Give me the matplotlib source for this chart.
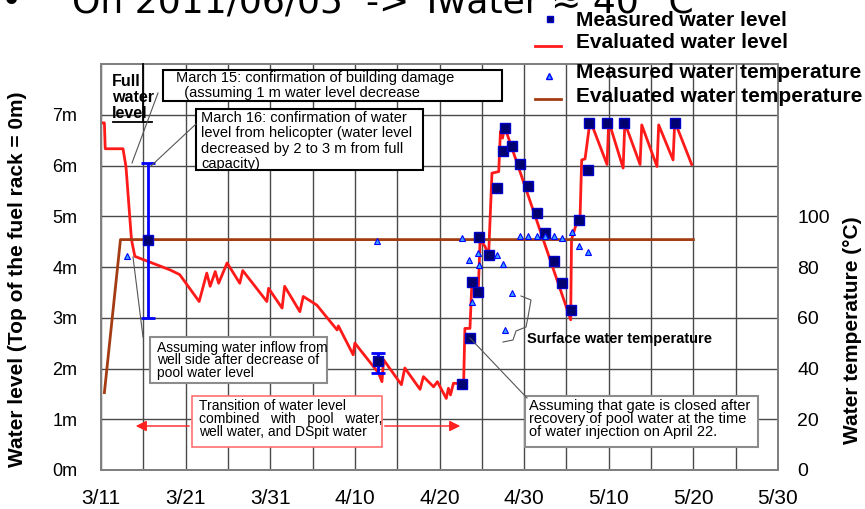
import matplotlib
matplotlib.use('Agg')
import matplotlib.pyplot as plt
from matplotlib.patches import Rectangle, FancyArrowPatch
from matplotlib.lines import Line2D

plt.rcParams['font.family'] = ['Liberation Sans', 'DejaVu Sans']

W, H = 865, 509

# x axis in days, day 0 = 3/11
tick_days = [0, 10, 20, 30, 40, 50, 60, 70, 80]
tick_labels = ['3/11', '3/21', '3/31', '4/10', '4/20', '4/30', '5/10', '5/20', '5/30']
level_ticks = [0, 1, 2, 3, 4, 5, 6, 7]
level_labels = ['0m', '1m', '2m', '3m', '4m', '5m', '6m', '7m']
temp_ticks = [0, 20, 40, 60, 80, 100]

# evaluated water level (m)
eval_level_days = [0.0, 0.4, 0.5, 2.6, 2.95, 3.6, 4.0, 8.2, 9.3, 11.6, 12.5, 12.9, 13.5,
                   13.9, 14.9, 16.4, 16.75, 19.6, 19.8, 21.4, 21.7, 23.5, 23.9, 25.5,
                   27.9, 28.05, 29.8, 30.0, 32.8, 33.2, 33.4, 35.5, 35.9, 37.7, 38.1,
                   39.3, 39.75, 40.8, 41.05, 41.3, 41.65, 42.6, 42.85, 43.0, 43.6, 43.8,
                   44.6, 44.8, 45.4, 45.8, 46.2, 47.0, 47.2, 47.45, 47.75, 47.95, 55.5,
                   55.6, 56.2, 56.6, 56.8, 57.2, 57.8, 59.8, 60.0, 61.7, 61.9, 63.7,
                   63.9, 65.7, 65.9, 67.6, 67.8, 69.8]
eval_level_m = [6.84, 6.84, 6.33, 6.33, 5.98, 4.54, 4.21, 3.94, 3.85, 3.32, 3.88, 3.62, 3.91,
                3.68, 4.08, 3.68, 3.93, 3.32, 3.58, 3.19, 3.62, 3.12, 3.42, 3.25,
                2.76, 2.84, 2.27, 2.50, 1.91, 1.74, 2.17, 1.68, 2.01, 1.59, 1.84,
                1.64, 1.74, 1.41, 1.61, 1.48, 1.71, 1.70, 1.70, 2.79, 2.79, 3.59,
                3.62, 4.54, 4.40, 4.21, 5.85, 5.88, 6.67, 6.54, 6.80, 6.64, 2.96,
                4.54, 4.87, 4.93, 6.11, 6.13, 6.89, 6.02, 6.87, 5.95, 6.84, 6.02,
                6.80, 5.98, 6.80, 6.11, 6.87, 6.02]

# measured water level (m)
meas_level_days = [5.6, 32.7, 42.6, 43.6, 43.8, 44.6, 44.7, 45.8, 46.8, 47.55, 47.75,
                   48.55, 49.5, 50.5, 51.5, 52.5, 53.5, 54.45, 55.5, 56.5, 57.6, 57.7,
                   59.8, 61.85, 67.85]
meas_level_m = [4.54, 2.14, 1.70, 2.60, 3.71, 3.50, 4.60, 4.24, 5.56, 6.28, 6.74,
                6.38, 6.02, 5.59, 5.06, 4.67, 4.11, 3.68, 3.16, 4.93, 5.92, 6.84,
                6.84, 6.84, 6.84]

# error bars on measured level
err_days = [5.6, 32.7]
err_mid = [4.54, 2.14]
err_low = [3.0, 1.91]
err_high = [6.05, 2.31]

# measured water temperature (deg C)
meas_temp_days = [3.1, 32.6, 42.6, 43.5, 43.8, 44.5, 44.7, 46.8, 47.55, 48.55, 47.75,
                  49.5, 50.5, 51.5, 52.5, 53.5, 54.45, 55.6, 56.5, 57.5]
meas_temp_c = [84.5, 90.3, 91.6, 82.8, 66.4, 85.5, 80.9, 84.8, 81.3, 69.7, 55.2,
               92.4, 92.4, 92.4, 92.4, 92.4, 91.6, 93.6, 88.4, 86.1]

# evaluated water temperature (deg C)
eval_temp_days = [0.4, 2.3, 70.0]
eval_temp_c = [30.5, 90.8, 90.8]

RED = '#ff1a1a'
BROWN = '#a33c12'
NAVY = '#000070'
TRI = '#3aa0ff'


def px(x, y):
    return x / W, 1 - y / H


fig = plt.figure(figsize=(W / 100, H / 100), dpi=100)
ax = fig.add_axes([101 / W, 1 - 470 / H, 677 / W, 406 / H])
ax2 = ax.twinx()

ax.set_xlim(0, 80)
ax.set_ylim(0, 8)
ax2.set_ylim(0, 160)
ax.set_xticks(tick_days)
ax.set_xticklabels(tick_labels, fontsize=15)
ax.set_xticks(range(5, 80, 10), minor=True)
ax.set_yticks(level_ticks)
ax.set_yticklabels(level_labels, fontsize=13)
ax2.set_yticks(temp_ticks)
ax2.set_yticklabels([str(t) for t in temp_ticks], fontsize=14)
ax.tick_params(axis='x', which='both', length=0, pad=14)
ax.tick_params(axis='y', length=0, pad=17)
ax2.tick_params(axis='y', length=0, pad=14)
ax.grid(True, which='both', color='#4a4a4a', lw=1.0)
ax.set_axisbelow(True)
for a in (ax, ax2):
    for s in a.spines.values():
        s.set_color('#808080')
        s.set_linewidth(1.4)

ax.plot(eval_level_days, eval_level_m, color=RED, lw=2, zorder=3)
ax.plot(eval_temp_days, [t / 20 for t in eval_temp_c], color=BROWN, lw=2, zorder=4)
ax.errorbar(err_days, err_mid,
            yerr=[[m - lo for m, lo in zip(err_mid, err_low)],
                  [hi - m for m, hi in zip(err_mid, err_high)]],
            fmt='none', ecolor='#0000ff', elinewidth=2, capsize=5, capthick=2, zorder=5)
ax.plot(meas_level_days, meas_level_m, 's', ms=7, color=NAVY, mec='#0000cc', mew=1, zorder=6)
ax.plot(meas_temp_days, [t / 20 for t in meas_temp_c], '^', ms=5, color=TRI,
        mec='#0000ff', mew=0.8, zorder=7)

# title line cut at the top
fig.text(*px(1, 12), '\u2022', fontsize=26, family='DejaVu Sans', va='baseline', ha='left')
fig.text(*px(72, 12), 'On 2011/06/05  -> Twater \u2248 40 \u00b0C',
         fontsize=26, family='DejaVu Sans', va='baseline', ha='left')

# legend
fig.add_artist(Line2D([550 / W], [1 - 19 / H], marker='s', ms=5, color=NAVY,
                      mec='#0000cc', ls='none'))
fig.add_artist(Line2D([535 / W, 561 / W], [1 - 46 / H] * 2, color=RED, lw=2))
fig.add_artist(Line2D([549 / W], [1 - 76 / H], marker='^', ms=5, color=TRI,
                      mec='#0000ff', ls='none'))
fig.add_artist(Line2D([535 / W, 561 / W], [1 - 99 / H] * 2, color=BROWN, lw=2))
for y, t in [(20, 'Measured water level'), (43, 'Evaluated water level'),
             (72, 'Measured water temperature'), (97, 'Evaluated water temperature')]:
    fig.text(*px(576, y), t, fontsize=15, fontweight='bold', va='center', ha='left')

# axis titles
fig.text(*px(18, 279), 'Water level (Top of the fuel rack = 0m)', rotation=90,
         fontsize=15, fontweight='bold', ha='center', va='center')
fig.text(*px(853, 330), 'Water temperature (\u00b0C)', rotation=90,
         fontsize=15, fontweight='bold', ha='center', va='center')


def box(x0, y0, x1, y1, ec, lw):
    fig.add_artist(Rectangle(px(x0, y1), (x1 - x0) / W, (y1 - y0) / H,
                             transform=fig.transFigure, fc='white', ec=ec, lw=lw, zorder=8))


def lines(x, y0, step, rows, size=10):
    for i, r in enumerate(rows):
        fig.text(*px(x, y0 + i * step), r, fontsize=size, va='center', ha='left', zorder=9)


def leader(pts, color='#555555', lw=0.8):
    fig.add_artist(Line2D([p[0] / W for p in pts], [1 - p[1] / H for p in pts],
                          color=color, lw=lw, zorder=9))


# full water level
for i, r in enumerate(['Full', 'water', 'level']):
    fig.text(*px(112, 81 + i * 16), r, fontsize=11.5, fontweight='bold',
             va='center', ha='left', zorder=9)
leader([(113, 122), (152, 122)], color='black', lw=1.3)
leader([(143, 64), (143, 122)], color='black', lw=1.3)
leader([(158, 93), (132, 163)])

box(163, 70, 502, 101, 'black', 1.5)
lines(176, 78, 15, ['March 15: confirmation of building damage',
                    '  (assuming 1 m water level decrease'], size=10.5)

box(196, 109, 423, 170, 'black', 1.5)
lines(201, 118, 15.5, ['March 16: confirmation of water',
                       'level from helicopter (water level',
                       'decreased by 2 to 3 m from full',
                       'capacity)'], size=10.5)
leader([(196, 124), (151, 166)])

box(150, 337, 327, 383, '#8c8c8c', 1.5)
lines(157, 348, 12.5, ['Assuming water inflow from',
                       'well side after decrease of',
                       'pool water level'])
leader([(143, 337), (133, 257)])

box(192, 396, 382, 447, '#ff7070', 1.2)
lines(199, 406, 13, ['Transition of water level',
                     'combined   with   pool   water,',
                     'well water, and DSpit water'])
for xs, xe in [(192, 133), (382, 463)]:
    fig.add_artist(FancyArrowPatch(px(xs, 426), px(xe, 426), transform=fig.transFigure,
                                   arrowstyle='-|>', mutation_scale=16, color='#ff2020',
                                   lw=1, zorder=9))

box(525, 396, 758, 447, '#8c8c8c', 1.5)
lines(529, 406, 13, ['Assuming that gate is closed after',
                     'recovery of pool water at the time',
                     'of water injection on April 22.'], size=10.5)
leader([(527, 398), (470, 338)])

fig.text(*px(527, 339), 'Surface water temperature', fontsize=10.5, fontweight='bold',
         va='center', ha='left', zorder=9)
leader([(521, 296), (531, 300), (528, 317), (526, 327), (516, 331), (513, 340), (503, 342)])

fig.savefig('out.png', dpi=100)
